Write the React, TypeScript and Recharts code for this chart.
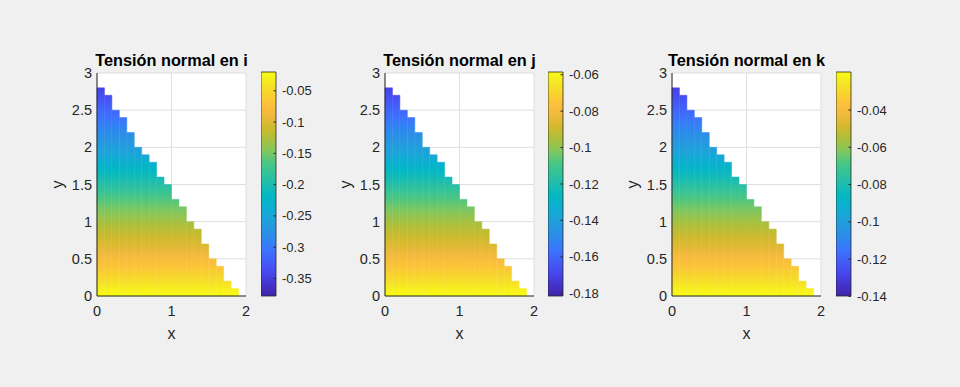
import { ComposedChart, XAxis, YAxis, CartesianGrid, ReferenceArea, Label } from 'recharts';

// staircase mesh: column left edge (x) and column top (y), 0.1 wide columns
const colX = [0, 0.1, 0.2, 0.3, 0.4, 0.5, 0.6, 0.7, 0.8, 0.9, 1.0, 1.1, 1.2, 1.3, 1.4, 1.5, 1.6, 1.7, 1.8];
const colTop = [2.8, 2.7, 2.5, 2.4, 2.2, 2.0, 1.9, 1.8, 1.6, 1.5, 1.3, 1.2, 1.0, 0.9, 0.7, 0.5, 0.4, 0.2, 0.1];

// node heights and stress values at each node height
const nodeY = [0, 0.1, 0.2, 0.3, 0.4, 0.5, 0.6, 0.7, 0.8, 0.9, 1.0, 1.1, 1.2, 1.3, 1.4, 1.5, 1.6, 1.7, 1.8, 1.9, 2.0, 2.1, 2.2, 2.3, 2.4, 2.5, 2.6, 2.7, 2.8];
const valsI = [-0.020, -0.031, -0.045, -0.056, -0.068, -0.079, -0.092, -0.102, -0.111, -0.120, -0.131, -0.142, -0.152, -0.163, -0.178, -0.192, -0.206, -0.220, -0.235, -0.249, -0.260, -0.271, -0.281, -0.294, -0.306, -0.315, -0.326, -0.337, -0.346];
const valsJ = [-0.0585, -0.0622, -0.0671, -0.0708, -0.0751, -0.0788, -0.0831, -0.0868, -0.0899, -0.0929, -0.0966, -0.1003, -0.1040, -0.1077, -0.1126, -0.1175, -0.1225, -0.1274, -0.1323, -0.1372, -0.1409, -0.1446, -0.1483, -0.1526, -0.1569, -0.1600, -0.1637, -0.1674, -0.1704];
const valsK = [-0.0196, -0.0232, -0.0280, -0.0316, -0.0358, -0.0394, -0.0436, -0.0472, -0.0502, -0.0533, -0.0569, -0.0605, -0.0641, -0.0677, -0.0725, -0.0773, -0.0821, -0.0869, -0.0917, -0.0965, -0.1001, -0.1037, -0.1073, -0.1116, -0.1158, -0.1188, -0.1224, -0.1260, -0.1290];

const domI = [-0.378, -0.020];
const domJ = [-0.1815, -0.0585];
const domK = [-0.1398, -0.0196];
const ticksI = [-0.35, -0.3, -0.25, -0.2, -0.15, -0.1, -0.05];
const ticksJ = [-0.18, -0.16, -0.14, -0.12, -0.1, -0.08, -0.06];
const ticksK = [-0.14, -0.12, -0.1, -0.08, -0.06, -0.04];

const xTicks = [0, 1, 2];
const yTicks = [0, 0.5, 1, 1.5, 2, 2.5, 3];
const titles = ['Tensión normal en i', 'Tensión normal en j', 'Tensión normal en k'];

const parula: [number, string][] = [
  [0.0, '#3e26a8'], [0.05, '#4433cb'], [0.1, '#4746eb'], [0.15, '#445bf8'], [0.2, '#3c72fd'],
  [0.25, '#2f86f0'], [0.3, '#2795e1'], [0.35, '#1da4d9'], [0.4, '#0bb0cf'], [0.45, '#03b8c2'],
  [0.5, '#1dbdaf'], [0.55, '#33c39a'], [0.6, '#4fc67f'], [0.65, '#85c75c'], [0.7, '#abbf3c'],
  [0.75, '#cfba2d'], [0.8, '#ecb93a'], [0.85, '#fdbe3d'], [0.9, '#f8d22f'], [0.95, '#f5e625'], [1.0, '#f9fb15'],
];

const FONT = '"Liberation Sans", Arial, Helvetica, sans-serif';
const INK = '#262626';

function rgb(h: string) {
  return [1, 3, 5].map(i => parseInt(h.slice(i, i + 2), 16));
}

function colorAt(f: number) {
  const t = Math.max(0, Math.min(1, f));
  for (let i = 1; i < parula.length; i++) {
    if (t <= parula[i][0]) {
      const [f0, c0] = parula[i - 1];
      const [f1, c1] = parula[i];
      const u = (t - f0) / (f1 - f0);
      const a = rgb(c0), b = rgb(c1);
      return `rgb(${a.map((v, k) => Math.round(v + (b[k] - v) * u)).join(',')})`;
    }
  }
  return parula[parula.length - 1][1];
}

const XLab = (p: any) => {
  const vb = p.viewBox;
  return <text x={vb.x + vb.width / 2} y={vb.y + 43} textAnchor="middle" fontSize={16} fontFamily={FONT} fill={INK}>x</text>;
};

const YLab = (p: any) => {
  const vb = p.viewBox;
  const cx = vb.x + 16, cy = vb.y + vb.height / 2;
  return <text x={cx} y={cy} transform={`rotate(-90, ${cx}, ${cy})`} textAnchor="middle" fontSize={16} fontFamily={FONT} fill={INK}>y</text>;
};

const CbTick = (p: any) => {
  const { x, y, payload } = p;
  return (
    <g>
      <line x1={x - 2.5} x2={x} y1={y} y2={y} stroke={INK} strokeWidth={1} />
      <text x={x + 6} y={y} dy="0.35em" fontSize={13} fontFamily={FONT} fill={INK}>{String(payload.value)}</text>
    </g>
  );
};

interface PanelProps { plotLeft: number; cbLeft: number; vals: number[]; dom: number[]; ticks: number[]; id: string }

function Panel({ plotLeft, cbLeft, vals, dom, ticks, id }: PanelProps) {
  const colour = (v: number) => colorAt((v - dom[0]) / (dom[1] - dom[0]));
  return (
    <>
      <div style={{ position: 'absolute', left: plotLeft - 50, top: 0 }}>
        <ComposedChart width={215} height={387} margin={{ top: 73, right: 16, bottom: 46, left: 0 }}>
          <defs>
            {colX.map((_, i) => {
              const n = Math.round(colTop[i] * 10);
              return (
                <linearGradient key={i} id={`${id}c${i}`} x1="0" y1="1" x2="0" y2="0">
                  {nodeY.slice(0, n + 1).map((yv, k) => (
                    <stop key={k} offset={yv / colTop[i]} stopColor={colour(vals[k])} />
                  ))}
                </linearGradient>
              );
            })}
          </defs>
          <CartesianGrid fill="#ffffff" stroke="#dfdfdf" />
          <XAxis type="number" dataKey="x" domain={[0, 2]} ticks={xTicks} interval={0} allowDataOverflow
            tickLine={false} tickSize={0} tickMargin={10} height={45}
            axisLine={{ stroke: INK }} tick={{ fontSize: 14.5, fill: INK, fontFamily: FONT }}>
            <Label content={XLab} />
          </XAxis>
          <YAxis type="number" domain={[0, 3]} ticks={yTicks} interval={0} allowDataOverflow
            tickLine={false} tickSize={0} tickMargin={5} width={50}
            axisLine={{ stroke: INK }} tick={{ fontSize: 14.5, fill: INK, fontFamily: FONT }}>
            <Label content={YLab} />
          </YAxis>
          {colX.map((x0, i) => (
            <ReferenceArea key={i} x1={x0} x2={x0 + 0.1} y1={0} y2={colTop[i]}
              fill={`url(#${id}c${i})`} fillOpacity={1}
              stroke={`url(#${id}c${i})`} strokeWidth={0.5} ifOverflow="visible" />
          ))}
        </ComposedChart>
      </div>
      <div style={{ position: 'absolute', left: cbLeft, top: 0 }}>
        <ComposedChart width={70} height={387} margin={{ top: 72, right: 5, bottom: 91, left: 0 }}>
          <defs>
            <linearGradient id={`${id}cb`} x1="0" y1="1" x2="0" y2="0">
              {parula.map(([f, c]) => <stop key={f} offset={f} stopColor={c} />)}
            </linearGradient>
          </defs>
          <XAxis type="number" dataKey="x" domain={[0, 1]} height={0} tick={false} axisLine={false} tickLine={false} allowDataOverflow />
          <YAxis orientation="right" type="number" domain={dom} ticks={ticks} interval={0} allowDataOverflow
            width={50} tickSize={0} tickMargin={0} axisLine={false} tickLine={false} tick={<CbTick />} />
          <ReferenceArea x1={0} x2={1} y1={dom[0]} y2={dom[1]} fill={`url(#${id}cb)`} fillOpacity={1}
            stroke={INK} strokeWidth={0.8} ifOverflow="visible" />
        </ComposedChart>
      </div>
    </>
  );
}

export default function App() {
  const lefts = [97, 385, 672];
  const cbs = [261, 548, 836];
  return (
    <div style={{ position: 'absolute', left: 0, top: 0, width: 960, height: 387, background: '#f0f0f0', overflow: 'hidden' }}>
      <Panel plotLeft={lefts[0]} cbLeft={cbs[0]} vals={valsI} dom={domI} ticks={ticksI} id="pi" />
      <Panel plotLeft={lefts[1]} cbLeft={cbs[1]} vals={valsJ} dom={domJ} ticks={ticksJ} id="pj" />
      <Panel plotLeft={lefts[2]} cbLeft={cbs[2]} vals={valsK} dom={domK} ticks={ticksK} id="pk" />
      <svg width={960} height={387} style={{ position: 'absolute', left: 0, top: 0, pointerEvents: 'none' }}>
        {titles.map((t, i) => (
          <text key={t} x={lefts[i] + 74.5} y={66} textAnchor="middle" fontSize={16.3} fontWeight="bold" fontFamily={FONT} fill="#000">{t}</text>
        ))}
      </svg>
    </div>
  );
}
